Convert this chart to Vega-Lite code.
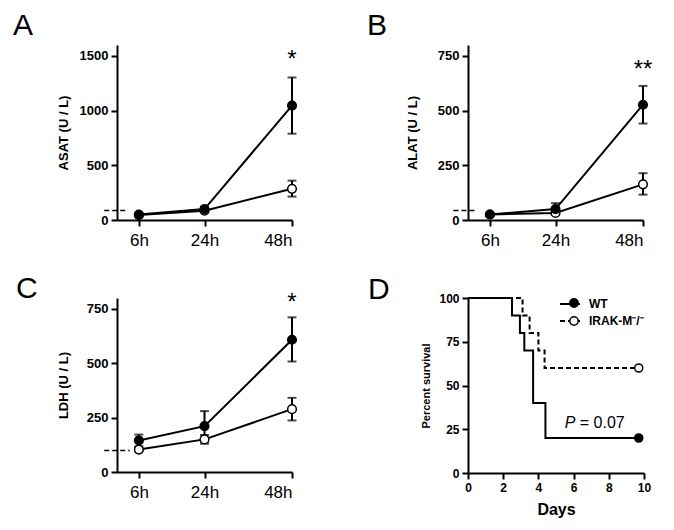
{
  "$schema": "https://vega.github.io/schema/vega-lite/v6.json",
  "background": "#ffffff",
  "autosize": {"type": "none"},
  "padding": {"left": 117, "top": 45, "right": 557, "bottom": 485},
  "datasets": {
    "lab": [
      {"panel": "A", "group": "WT", "h": 6, "mean": 50, "lo": 40, "hi": 62},
      {"panel": "A", "group": "WT", "h": 24, "mean": 100, "lo": 80, "hi": 122},
      {"panel": "A", "group": "WT", "h": 48, "mean": 1046, "lo": 789, "hi": 1303},
      {"panel": "A", "group": "IRAK-M⁻/⁻", "h": 6, "mean": 45, "lo": 38, "hi": 52},
      {"panel": "A", "group": "IRAK-M⁻/⁻", "h": 24, "mean": 85, "lo": 75, "hi": 95},
      {"panel": "A", "group": "IRAK-M⁻/⁻", "h": 48, "mean": 285, "lo": 214, "hi": 360},
      {"panel": "B", "group": "WT", "h": 6, "mean": 25, "lo": 20, "hi": 30},
      {"panel": "B", "group": "WT", "h": 24, "mean": 50, "lo": 30, "hi": 77},
      {"panel": "B", "group": "WT", "h": 48, "mean": 527, "lo": 441, "hi": 613},
      {"panel": "B", "group": "IRAK-M⁻/⁻", "h": 6, "mean": 25, "lo": 20, "hi": 30},
      {"panel": "B", "group": "IRAK-M⁻/⁻", "h": 24, "mean": 32, "lo": 25, "hi": 40},
      {"panel": "B", "group": "IRAK-M⁻/⁻", "h": 48, "mean": 163, "lo": 116, "hi": 214},
      {"panel": "C", "group": "WT", "h": 6, "mean": 145, "lo": 118, "hi": 172},
      {"panel": "C", "group": "WT", "h": 24, "mean": 211, "lo": 140, "hi": 280},
      {"panel": "C", "group": "WT", "h": 48, "mean": 608, "lo": 508, "hi": 711},
      {"panel": "C", "group": "IRAK-M⁻/⁻", "h": 6, "mean": 103, "lo": 95, "hi": 111},
      {"panel": "C", "group": "IRAK-M⁻/⁻", "h": 24, "mean": 150, "lo": 130, "hi": 170},
      {"panel": "C", "group": "IRAK-M⁻/⁻", "h": 48, "mean": 289, "lo": 237, "hi": 341}
    ],
    "normals": [
      {"panel": "A", "x1": -3.5, "x2": 3, "y": 88},
      {"panel": "B", "x1": -4, "x2": 2.5, "y": 44},
      {"panel": "C", "x1": -3.5, "x2": 3.5, "y": 99}
    ],
    "stars": [
      {"panel": "A", "h": 48, "y": 1397, "label": "*"},
      {"panel": "B", "h": 48, "y": 664, "label": "**"},
      {"panel": "C", "h": 48, "y": 754, "label": "*"}
    ],
    "surv": [
      {"group": "WT", "day": 0, "pct": 100},
      {"group": "WT", "day": 2.5, "pct": 90},
      {"group": "WT", "day": 2.95, "pct": 80},
      {"group": "WT", "day": 3.2, "pct": 70},
      {"group": "WT", "day": 3.7, "pct": 40},
      {"group": "WT", "day": 4.4, "pct": 20},
      {"group": "WT", "day": 9.7, "pct": 20},
      {"group": "IRAK-M⁻/⁻", "day": 0, "pct": 100},
      {"group": "IRAK-M⁻/⁻", "day": 3.1, "pct": 90},
      {"group": "IRAK-M⁻/⁻", "day": 3.5, "pct": 80},
      {"group": "IRAK-M⁻/⁻", "day": 4.0, "pct": 70},
      {"group": "IRAK-M⁻/⁻", "day": 4.35, "pct": 60},
      {"group": "IRAK-M⁻/⁻", "day": 9.7, "pct": 60}
    ],
    "survEnd": [
      {"group": "WT", "day": 9.7, "pct": 20},
      {"group": "IRAK-M⁻/⁻", "day": 9.7, "pct": 60}
    ],
    "pval": [
      {"day": 5.5, "pct": 25.7, "sym": "P", "val": "= 0.07"}
    ]
  },
  "columns": 2,
  "spacing": {"row": 78, "column": 176},
  "bounds": "flush",
  "resolve": {
    "scale": {"x": "independent", "y": "independent", "fill": "independent", "strokeDash": "independent"},
    "axis": {"x": "independent", "y": "independent"},
    "legend": {"fill": "independent", "strokeDash": "independent"}
  },
  "concat": [
    {
      "width": 175, "height": 175,
      "title": {"text": "A", "anchor": "start", "frame": "group", "dx": -104, "dy": 0},
      "layer": [
        {"data": {"name": "normals"}, "transform": [{"filter": "datum.panel === 'A'"}], "mark": {"type": "rule", "strokeDash": [5, 3], "strokeWidth": 1.5, "color": "black"},
         "encoding": {"x": {"field": "x1", "type": "quantitative", "scale": {"domain": [0, 48], "nice": false}}, "x2": {"field": "x2"}, "y": {"field": "y", "type": "quantitative", "scale": {"domain": [0, 1500]}}}},
        {"data": {"name": "lab"}, "transform": [{"filter": "datum.panel === 'A'"}], "mark": {"type": "line", "color": "black", "strokeWidth": 2},
         "encoding": {"x": {"field": "h", "type": "quantitative", "scale": {"domain": [0, 48], "nice": false},
           "axis": {"values": [6, 24, 48], "labelExpr": "datum.value + 'h'", "title": null, "labelFontWeight": "normal", "labelFontSize": 17, "labelPadding": 6}},
           "y": {"field": "mean", "type": "quantitative", "scale": {"domain": [0, 1500]}, "axis": {"values": [0, 500, 1000, 1500], "format": "d", "title": "ASAT (U / L)", "titleX": -54}},
           "detail": {"field": "group"}}},
        {"data": {"name": "lab"}, "transform": [{"filter": "datum.panel === 'A'"}], "mark": {"type": "rule", "color": "black", "strokeWidth": 2},
         "encoding": {"x": {"field": "h", "type": "quantitative"}, "y": {"field": "lo", "type": "quantitative"}, "y2": {"field": "hi"}}},
        {"data": {"name": "lab"}, "transform": [{"filter": "datum.panel === 'A'"}], "mark": {"type": "tick", "orient": "horizontal", "color": "black", "size": 9, "thickness": 2},
         "encoding": {"x": {"field": "h", "type": "quantitative"}, "y": {"field": "lo", "type": "quantitative"}}},
        {"data": {"name": "lab"}, "transform": [{"filter": "datum.panel === 'A'"}], "mark": {"type": "tick", "orient": "horizontal", "color": "black", "size": 9, "thickness": 2},
         "encoding": {"x": {"field": "h", "type": "quantitative"}, "y": {"field": "hi", "type": "quantitative"}}},
        {"data": {"name": "lab"}, "transform": [{"filter": "datum.panel === 'A'"}], "mark": {"type": "point", "filled": true, "stroke": "black", "strokeWidth": 1.5, "size": 75, "opacity": 1},
         "encoding": {"x": {"field": "h", "type": "quantitative"}, "y": {"field": "mean", "type": "quantitative"},
           "fill": {"field": "group", "type": "nominal", "scale": {"domain": ["WT", "IRAK-M⁻/⁻"], "range": ["black", "white"]}, "legend": null},
           "order": {"field": "group", "sort": "ascending"}}},
        {"data": {"name": "stars"}, "transform": [{"filter": "datum.panel === 'A'"}], "mark": {"type": "text", "fontSize": 24, "font": "Liberation Sans", "baseline": "alphabetic", "dy": 0, "color": "black"},
         "encoding": {"x": {"field": "h", "type": "quantitative"}, "y": {"field": "y", "type": "quantitative"}, "text": {"field": "label"}}}
      ]
    },
    {
      "width": 175, "height": 175,
      "title": {"text": "B", "anchor": "start", "frame": "group", "dx": -101, "dy": 0},
      "layer": [
        {"data": {"name": "normals"}, "transform": [{"filter": "datum.panel === 'B'"}], "mark": {"type": "rule", "strokeDash": [5, 3], "strokeWidth": 1.5, "color": "black"},
         "encoding": {"x": {"field": "x1", "type": "quantitative", "scale": {"domain": [0, 48], "nice": false}}, "x2": {"field": "x2"}, "y": {"field": "y", "type": "quantitative", "scale": {"domain": [0, 750]}}}},
        {"data": {"name": "lab"}, "transform": [{"filter": "datum.panel === 'B'"}], "mark": {"type": "line", "color": "black", "strokeWidth": 2},
         "encoding": {"x": {"field": "h", "type": "quantitative", "scale": {"domain": [0, 48], "nice": false},
           "axis": {"values": [6, 24, 48], "labelExpr": "datum.value + 'h'", "title": null, "labelFontWeight": "normal", "labelFontSize": 17, "labelPadding": 6}},
           "y": {"field": "mean", "type": "quantitative", "scale": {"domain": [0, 750]}, "axis": {"values": [0, 250, 500, 750], "format": "d", "title": "ALAT (U / L)", "titleX": -56}},
           "detail": {"field": "group"}}},
        {"data": {"name": "lab"}, "transform": [{"filter": "datum.panel === 'B'"}], "mark": {"type": "rule", "color": "black", "strokeWidth": 2},
         "encoding": {"x": {"field": "h", "type": "quantitative"}, "y": {"field": "lo", "type": "quantitative"}, "y2": {"field": "hi"}}},
        {"data": {"name": "lab"}, "transform": [{"filter": "datum.panel === 'B'"}], "mark": {"type": "tick", "orient": "horizontal", "color": "black", "size": 9, "thickness": 2},
         "encoding": {"x": {"field": "h", "type": "quantitative"}, "y": {"field": "lo", "type": "quantitative"}}},
        {"data": {"name": "lab"}, "transform": [{"filter": "datum.panel === 'B'"}], "mark": {"type": "tick", "orient": "horizontal", "color": "black", "size": 9, "thickness": 2},
         "encoding": {"x": {"field": "h", "type": "quantitative"}, "y": {"field": "hi", "type": "quantitative"}}},
        {"data": {"name": "lab"}, "transform": [{"filter": "datum.panel === 'B'"}], "mark": {"type": "point", "filled": true, "stroke": "black", "strokeWidth": 1.5, "size": 75, "opacity": 1},
         "encoding": {"x": {"field": "h", "type": "quantitative"}, "y": {"field": "mean", "type": "quantitative"},
           "fill": {"field": "group", "type": "nominal", "scale": {"domain": ["WT", "IRAK-M⁻/⁻"], "range": ["black", "white"]}, "legend": null},
           "order": {"field": "group", "sort": "ascending"}}},
        {"data": {"name": "stars"}, "transform": [{"filter": "datum.panel === 'B'"}], "mark": {"type": "text", "fontSize": 24, "font": "Liberation Sans", "baseline": "alphabetic", "dy": 2, "color": "black"},
         "encoding": {"x": {"field": "h", "type": "quantitative"}, "y": {"field": "y", "type": "quantitative"}, "text": {"field": "label"}}}
      ]
    },
    {
      "width": 175, "height": 174,
      "title": {"text": "C", "anchor": "start", "frame": "group", "dx": -101, "dy": 17},
      "layer": [
        {"data": {"name": "normals"}, "transform": [{"filter": "datum.panel === 'C'"}], "mark": {"type": "rule", "strokeDash": [5, 3], "strokeWidth": 1.5, "color": "black"},
         "encoding": {"x": {"field": "x1", "type": "quantitative", "scale": {"domain": [0, 48], "nice": false}}, "x2": {"field": "x2"}, "y": {"field": "y", "type": "quantitative", "scale": {"domain": [0, 750]}}}},
        {"data": {"name": "lab"}, "transform": [{"filter": "datum.panel === 'C'"}], "mark": {"type": "line", "color": "black", "strokeWidth": 2},
         "encoding": {"x": {"field": "h", "type": "quantitative", "scale": {"domain": [0, 48], "nice": false},
           "axis": {"values": [6, 24, 48], "labelExpr": "datum.value + 'h'", "title": null, "labelFontWeight": "normal", "labelFontSize": 17, "labelPadding": 6}},
           "y": {"field": "mean", "type": "quantitative", "scale": {"domain": [0, 750]}, "axis": {"values": [0, 250, 500, 750], "format": "d", "title": "LDH (U / L)", "titleX": -54}},
           "detail": {"field": "group"}}},
        {"data": {"name": "lab"}, "transform": [{"filter": "datum.panel === 'C'"}], "mark": {"type": "rule", "color": "black", "strokeWidth": 2},
         "encoding": {"x": {"field": "h", "type": "quantitative"}, "y": {"field": "lo", "type": "quantitative"}, "y2": {"field": "hi"}}},
        {"data": {"name": "lab"}, "transform": [{"filter": "datum.panel === 'C'"}], "mark": {"type": "tick", "orient": "horizontal", "color": "black", "size": 9, "thickness": 2},
         "encoding": {"x": {"field": "h", "type": "quantitative"}, "y": {"field": "lo", "type": "quantitative"}}},
        {"data": {"name": "lab"}, "transform": [{"filter": "datum.panel === 'C'"}], "mark": {"type": "tick", "orient": "horizontal", "color": "black", "size": 9, "thickness": 2},
         "encoding": {"x": {"field": "h", "type": "quantitative"}, "y": {"field": "hi", "type": "quantitative"}}},
        {"data": {"name": "lab"}, "transform": [{"filter": "datum.panel === 'C'"}], "mark": {"type": "point", "filled": true, "stroke": "black", "strokeWidth": 1.5, "size": 75, "opacity": 1},
         "encoding": {"x": {"field": "h", "type": "quantitative"}, "y": {"field": "mean", "type": "quantitative"},
           "fill": {"field": "group", "type": "nominal", "scale": {"domain": ["WT", "IRAK-M⁻/⁻"], "range": ["black", "white"]}, "legend": null},
           "order": {"field": "group", "sort": "ascending"}}},
        {"data": {"name": "stars"}, "transform": [{"filter": "datum.panel === 'C'"}], "mark": {"type": "text", "fontSize": 24, "font": "Liberation Sans", "baseline": "alphabetic", "dy": 2, "color": "black"},
         "encoding": {"x": {"field": "h", "type": "quantitative"}, "y": {"field": "y", "type": "quantitative"}, "text": {"field": "label"}}}
      ]
    },
    {
      "width": 176, "height": 175,
      "title": {"text": "D", "anchor": "start", "frame": "group", "dx": -100, "dy": 17},
      "resolve": {"axis": {"x": "independent"}},
      "layer": [
        {"data": {"name": "surv"}, "mark": {"type": "line", "color": "black", "strokeWidth": 2, "interpolate": "step-after"},
         "encoding": {"x": {"field": "day", "type": "quantitative", "scale": {"domain": [0, 10], "nice": false},
           "axis": {"orient": "bottom", "values": [0, 4, 8], "labelOverlap": false, "labelSeparation": -100, "labelFlush": false, "title": "Days", "titleFontSize": 16, "titlePadding": 8, "titleBaseline": "top", "labelFontSize": 12}},
           "y": {"field": "pct", "type": "quantitative", "scale": {"domain": [0, 100]}, "axis": {"values": [0, 25, 50, 75, 100], "title": "Percent survival", "titleFontSize": 11, "titleX": -42, "labelFontSize": 12}},
           "strokeDash": {"field": "group", "type": "nominal", "scale": {"domain": ["WT", "IRAK-M⁻/⁻"], "range": [[1, 0], [5, 3]]},
             "legend": {"orient": "none", "legendX": 91, "legendY": -5, "title": null, "symbolType": "stroke", "symbolSize": 400, "symbolStrokeColor": "black", "symbolStrokeWidth": 2,
               "labelFontSize": 12, "labelFontWeight": "bold", "labelFont": "Liberation Sans", "labelColor": "black", "labelOffset": 8, "padding": 0, "rowPadding": -2, "zindex": 0}}}},
        {"data": {"name": "survEnd"}, "mark": {"type": "point", "filled": true, "stroke": "black", "strokeWidth": 1.5, "size": 65, "opacity": 1},
         "encoding": {"x": {"field": "day", "type": "quantitative",
           "axis": {"orient": "bottom", "values": [2, 6, 10], "labelOverlap": false, "labelSeparation": -100, "labelFlush": false, "title": null, "domain": false, "labelFontSize": 12}},
           "y": {"field": "pct", "type": "quantitative"},
           "fill": {"field": "group", "type": "nominal", "sort": "descending", "scale": {"range": ["black", "white"]},
             "legend": {"orient": "none", "legendX": 97, "legendY": -4, "title": null, "symbolType": "circle", "symbolSize": 70, "symbolStrokeColor": "black", "symbolStrokeWidth": 1.5,
               "labelExpr": "''", "labelFontSize": 18, "padding": 0, "rowPadding": 0, "zindex": 1}}}},
        {"data": {"name": "pval"}, "mark": {"type": "text", "fontSize": 16, "font": "Liberation Sans", "fontStyle": "italic", "align": "left", "baseline": "alphabetic", "color": "black"},
         "encoding": {"x": {"field": "day", "type": "quantitative", "axis": null}, "y": {"field": "pct", "type": "quantitative"}, "text": {"field": "sym"}}},
        {"data": {"name": "pval"}, "mark": {"type": "text", "fontSize": 16, "font": "Liberation Sans", "align": "left", "baseline": "alphabetic", "dx": 15, "color": "black"},
         "encoding": {"x": {"field": "day", "type": "quantitative", "axis": null}, "y": {"field": "pct", "type": "quantitative"}, "text": {"field": "val"}}}
      ]
    }
  ],
  "config": {
    "font": "Liberation Sans",
    "view": {"stroke": null},
    "title": {"fontSize": 30, "fontWeight": "normal", "font": "Liberation Sans", "color": "black", "baseline": "alphabetic", "offset": 0},
    "axis": {
      "grid": false, "labelOverlap": false,
      "domainColor": "black", "domainWidth": 2,
      "tickColor": "black", "tickWidth": 2, "tickSize": 6,
      "labelColor": "black", "labelFont": "Liberation Sans", "labelFontWeight": "bold", "labelFontSize": 13, "labelPadding": 3,
      "titleColor": "black", "titleFont": "Liberation Sans", "titleFontWeight": "bold", "titleFontSize": 13, "titleBaseline": "middle"
    }
  }
}
